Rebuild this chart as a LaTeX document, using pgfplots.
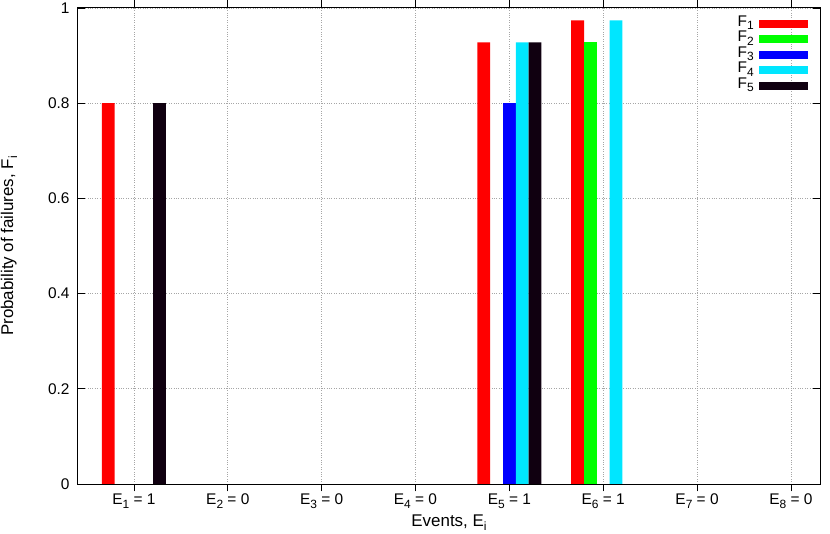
\documentclass[border=0pt]{standalone}
\usepackage{fontspec}
\setmainfont{Liberation Sans}
\usepackage{pgfplots}
\pgfplotsset{compat=1.18}

\definecolor{fred}{RGB}{255,0,0}
\definecolor{fgreen}{RGB}{0,255,0}
\definecolor{fblue}{RGB}{0,0,255}
\definecolor{fcyan}{RGB}{0,230,255}
\definecolor{fblack}{RGB}{16,0,16}

% gnuplot-like subscript: slightly smaller and lowered
\newcommand{\sub}[1]{\raisebox{-0.45ex}{\fontsize{12}{12}\selectfont #1}}

\begin{document}
\begin{tikzpicture}[font=\fontsize{15.5}{18}\selectfont]
\begin{axis}[
    name=ax,
    scale only axis,
    width=742bp, height=476bp,
    xmin=0.404, xmax=8.31,
    ymin=0, ymax=1,
    ybar=0pt, bar width=12.8bp,
    xtick={1,2,3,4,5,6,7,8},
    xticklabels={E\sub{1} = 1, E\sub{2} = 0, E\sub{3} = 0, E\sub{4} = 0,
                 E\sub{5} = 1, E\sub{6} = 1, E\sub{7} = 0, E\sub{8} = 0},
    ytick={0,0.2,0.4,0.6,0.8,1},
    /pgf/number format/assume math mode=true,
    yticklabel style={xshift=-5bp},
    xticklabel style={yshift=1bp},
    major tick length=7.5bp,
    tick style={black, line width=0.8bp},
    axis line style={line width=1bp},
    grid=major,
    grid style={dotted, gray!70, line width=0.6bp},
    xlabel={Events, E\sub{i}},
    ylabel={Probability of failures, F\sub{i}},
    every axis x label/.style={at={(axis description cs:0.5,0)}, yshift=-39bp, anchor=center,
        font=\fontsize{17}{20}\selectfont},
    every axis y label/.style={at={(axis description cs:0,0.5)}, xshift=-69bp, rotate=90, anchor=center,
        font=\fontsize{17}{20}\selectfont},
    legend style={draw=none, fill=none, at={(axis description cs:1,1)}, anchor=north east,
        xshift=-9bp, yshift=-6bp, nodes={inner sep=1bp, text height=9bp, text depth=4.5bp},
        /tikz/column sep=4bp},
    legend plot pos=right,
    legend cell align=right,
    legend image code/.code={\fill[#1] (0bp,-4bp) rectangle (49bp,4bp);},
]
\addplot[fill=fred, draw=none] coordinates {(1,0.8) (5,0.928) (6,0.974)};
\addplot[fill=fgreen, draw=none] coordinates {(6,0.928)};
\addplot[fill=fblue, draw=none] coordinates {(5,0.8)};
\addplot[fill=fcyan, draw=none] coordinates {(5,0.928) (6,0.974)};
\addplot[fill=fblack, draw=none] coordinates {(1,0.8) (5,0.928)};
\legend{F\sub{1}, F\sub{2}, F\sub{3}, F\sub{4}, F\sub{5}}
\end{axis}
\pgfresetboundingbox
\path ([shift={(-78bp,-50bp)}]ax.south west) rectangle ([shift={(10bp,8bp)}]ax.north east);
\end{tikzpicture}
\end{document}
